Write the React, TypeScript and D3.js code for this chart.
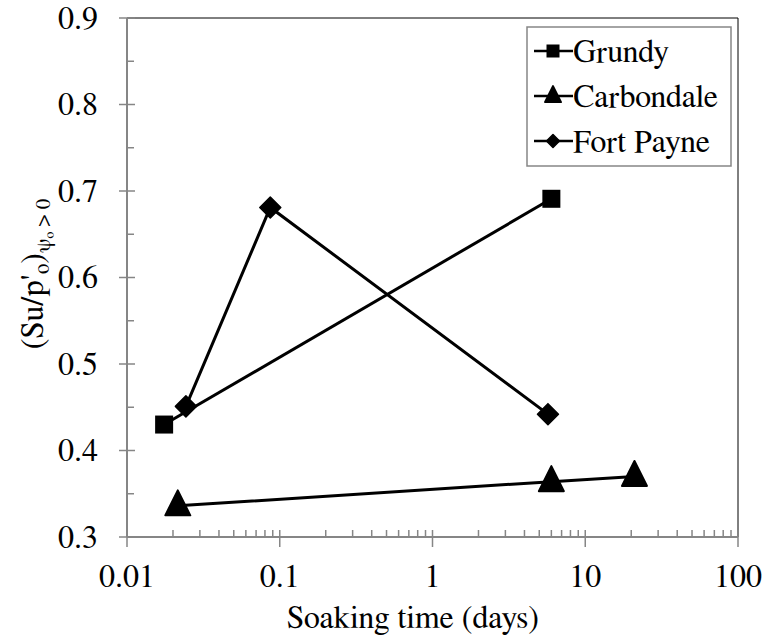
import React from "react";
import * as d3 from "d3";

const grundyX = [0.0175, 6];
const grundyY = [0.43, 0.691];
const carbondaleX = [0.0215, 6, 21];
const carbondaleY = [0.336, 0.364, 0.37];
const fortPayneX = [0.0243, 0.0867, 5.7];
const fortPayneY = [0.451, 0.681, 0.442];
const xTicks = [0.01, 0.1, 1, 10, 100];
const xTickLabels = ["0.01", "0.1", "1", "10", "100"];
const yTicks = [0.3, 0.4, 0.5, 0.6, 0.7, 0.8, 0.9];
const yTickLabels = ["0.3", "0.4", "0.5", "0.6", "0.7", "0.8", "0.9"];
const seriesNames = ["Grundy", "Carbondale", "Fort Payne"];

const FONT = "FreeSerif";
const FS = 32;
const L = 127, R = 738, T = 18, B = 537;

function Marker({ kind, x, y, s }: { kind: string; x: number; y: number; s: number }) {
  if (kind === "square") return <rect x={x - s / 2} y={y - s / 2} width={s} height={s} fill="#000" />;
  if (kind === "triangle") {
    const h = s;
    const p = `${x},${y - h * 0.62} ${x + s / 2},${y + h * 0.38} ${x - s / 2},${y + h * 0.38}`;
    return <polygon points={p} fill="#000" stroke="#000" strokeWidth={2} strokeLinejoin="round" />;
  }
  const d = s / 2;
  return <polygon points={`${x},${y - d} ${x + d},${y} ${x},${y + d} ${x - d},${y}`} fill="#000" stroke="#000" strokeWidth={1.5} strokeLinejoin="round" />;
}

export default function App() {
  const x = d3.scaleLog().domain([0.01, 100]).range([L, R]);
  const y = d3.scaleLinear().domain([0.3, 0.9]).range([B, T]);
  const line = d3.line<[number, number]>().x((d) => x(d[0])).y((d) => y(d[1]));

  const series = [
    { xs: grundyX, ys: grundyY, kind: "square", size: 18 },
    { xs: carbondaleX, ys: carbondaleY, kind: "triangle", size: 25 },
    { xs: fortPayneX, ys: fortPayneY, kind: "diamond", size: 21 },
  ];

  const minorX: number[] = [];
  for (let e = -2; e < 2; e++) for (let m = 2; m <= 9; m++) minorX.push(m * Math.pow(10, e));
  const minorY = d3.range(0.35, 0.9, 0.1);

  const axisColor = "#868686";
  const legendItems = series.map((s, i) => ({ ...s, name: seriesNames[i] }));
  const ts = { fontFamily: FONT };

  return (
    <svg width={766} height={640} style={{ position: "absolute", left: 0, top: 0 }}>
      <rect x={0} y={0} width={766} height={640} fill="#fff" />
      <line x1={L} y1={T} x2={R} y2={T} stroke="#000" strokeWidth={1} />
      <line x1={R} y1={T} x2={R} y2={B} stroke="#000" strokeWidth={1} />
      <line x1={L} y1={T} x2={L} y2={B} stroke={axisColor} strokeWidth={2} />
      <line x1={L} y1={B} x2={R} y2={B} stroke={axisColor} strokeWidth={2} />
      {yTicks.map((t) => (
        <line key={"yt" + t} x1={L - 8} x2={L + 8} y1={y(t)} y2={y(t)} stroke={axisColor} strokeWidth={1.5} />
      ))}
      {minorY.map((t) => (
        <line key={"ym" + t} x1={L} x2={L + 7} y1={y(t)} y2={y(t)} stroke={axisColor} strokeWidth={1.5} />
      ))}
      {xTicks.map((t) => (
        <line key={"xt" + t} x1={x(t)} x2={x(t)} y1={B - 7} y2={B + 10} stroke={axisColor} strokeWidth={1.5} />
      ))}
      {minorX.map((t) => (
        <line key={"xm" + t} x1={x(t)} x2={x(t)} y1={B - 7} y2={B} stroke={axisColor} strokeWidth={1.5} />
      ))}
      {yTicks.map((t, i) => (
        <text key={"yl" + t} x={98} y={y(t)} dy="0.34em" textAnchor="end" fontSize={FS} fill="#000" style={ts}>
          {yTickLabels[i]}
        </text>
      ))}
      {xTicks.map((t, i) => (
        <text key={"xl" + t} x={x(t)} y={587} textAnchor="middle" fontSize={FS} fill="#000" style={ts}>
          {xTickLabels[i]}
        </text>
      ))}
      <text x={413} y={628} textAnchor="middle" fontSize={FS} fill="#000" style={ts}>
        Soaking time (days)
      </text>
      <text transform="translate(43,274) rotate(-90)" textAnchor="middle" fontSize={FS} fill="#000" style={ts}>
        (Su/p'
        <tspan fontSize={21} dy={6}>o</tspan>
        <tspan dy={-6}>)</tspan>
        <tspan fontSize={21} dy={7}>ψ</tspan>
        <tspan fontSize={14} dy={4}>o</tspan>
        <tspan fontSize={21} dy={-4}> &gt; 0</tspan>
      </text>
      {series.map((s, i) => (
        <path
          key={"p" + i}
          d={line(s.xs.map((v, j) => [v, s.ys[j]] as [number, number])) || ""}
          fill="none"
          stroke="#000"
          strokeWidth={3}
        />
      ))}
      {series.map((s, i) =>
        s.xs.map((v, j) => <Marker key={"m" + i + "-" + j} kind={s.kind} x={x(v)} y={y(s.ys[j])} s={s.size} />)
      )}
      <rect x={527} y={27} width={204} height={139} fill="#fff" stroke={axisColor} strokeWidth={1.5} />
      {legendItems.map((it, i) => {
        const cy = 51 + i * 45;
        return (
          <g key={"lg" + i}>
            <line x1={534} x2={573} y1={cy} y2={cy} stroke="#000" strokeWidth={2.5} />
            <Marker kind={it.kind} x={553} y={cy} s={it.kind === "square" ? 13 : it.kind === "triangle" ? 16 : 13} />
            <text x={573} y={cy} dy="0.34em" fontSize={FS} fill="#000" style={ts}>
              {it.name}
            </text>
          </g>
        );
      })}
    </svg>
  );
}
